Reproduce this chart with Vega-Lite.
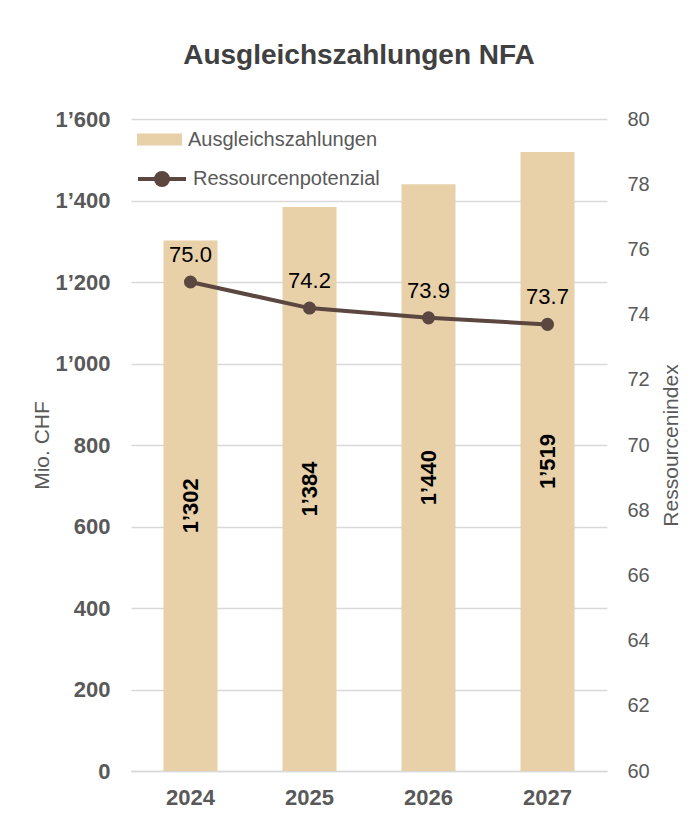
{
  "$schema": "https://vega.github.io/schema/vega-lite/v6.json",
  "width": 476,
  "height": 652,
  "autosize": {"type": "none"},
  "padding": {"left": 131, "top": 119, "right": 86, "bottom": 61},
  "background": "white",
  "config": {
    "locale": {"number": {"decimal": ".", "thousands": "’", "grouping": [3], "currency": ["", ""]}},
    "font": "Liberation Sans",
    "view": {"stroke": null}
  },
  "title": {
    "text": "Ausgleichszahlungen NFA",
    "fontSize": 28,
    "fontWeight": "bold",
    "color": "#404040",
    "font": "Liberation Sans",
    "anchor": "middle",
    "dx": -10,
    "offset": 38
  },
  "data": {
    "values": [
      {"year": "2024", "zahlungen": 1302, "index": 75.0},
      {"year": "2025", "zahlungen": 1384, "index": 74.2},
      {"year": "2026", "zahlungen": 1440, "index": 73.9},
      {"year": "2027", "zahlungen": 1519, "index": 73.7}
    ]
  },
  "encoding": {
    "x": {
      "field": "year",
      "type": "ordinal",
      "scale": {"paddingInner": 0.546, "paddingOuter": 0.273},
      "axis": {
        "title": null,
        "labelAngle": 0,
        "labelFontSize": 22,
        "labelFontWeight": "bold",
        "labelColor": "#595959",
        "labelPadding": 16,
        "ticks": false,
        "domainColor": "#D9D9D9",
        "domainWidth": 1.5
      }
    }
  },
  "layer": [
    {
      "mark": {"type": "bar"},
      "encoding": {
        "y": {
          "field": "zahlungen",
          "type": "quantitative",
          "scale": {"domain": [0, 1600], "nice": false},
          "axis": {
            "orient": "left",
            "title": "Mio. CHF",
            "titleFontSize": 21,
            "titleFontWeight": "normal",
            "titleColor": "#595959",
            "titlePadding": 2,
            "values": [0, 200, 400, 600, 800, 1000, 1200, 1400, 1600],
            "format": ",d",
            "labelFontSize": 22,
            "labelFontWeight": "bold",
            "labelColor": "#595959",
            "labelPadding": 21,
            "domain": false,
            "ticks": false,
            "grid": true,
            "gridColor": "#D9D9D9",
            "gridWidth": 1.5
          }
        },
        "fill": {
          "datum": "Ausgleichszahlungen",
          "type": "nominal",
          "scale": {"range": ["#E8D0A9"]},
          "legend": {
            "orient": "none",
            "legendX": 6,
            "legendY": -2,
            "title": null,
            "symbolType": "M-1,-0.27H1V0.27H-1Z",
            "symbolSize": 2025,
            "symbolStrokeWidth": 0,
            "labelFontSize": 20,
            "labelColor": "#595959",
            "labelOffset": 6,
            "labelLimit": 400,
            "padding": 0
          }
        }
      }
    },
    {
      "mark": {"type": "text", "angle": 270, "align": "center", "baseline": "middle", "fontSize": 22, "fontWeight": "bold", "color": "#000000"},
      "encoding": {
        "y": {
          "field": "zahlungen",
          "type": "quantitative",
          "scale": {"domain": [0, 3200], "nice": false},
          "axis": null
        },
        "text": {"field": "zahlungen", "type": "quantitative", "format": ",d"}
      }
    },
    {
      "mark": {"type": "line", "strokeWidth": 4},
      "encoding": {
        "y": {
          "field": "index",
          "type": "quantitative",
          "scale": {"domain": [60, 80], "nice": false, "zero": false},
          "axis": {
            "orient": "right",
            "title": "Ressourcenindex",
            "titleAngle": 270,
            "titleFontSize": 21,
            "titleFontWeight": "normal",
            "titleColor": "#595959",
            "titlePadding": 32,
            "values": [60, 62, 64, 66, 68, 70, 72, 74, 76, 78, 80],
            "labelFontSize": 20,
            "labelColor": "#595959",
            "labelPadding": 20,
            "domain": false,
            "ticks": false,
            "grid": false
          }
        },
        "stroke": {
          "datum": "Ressourcenpotenzial",
          "type": "nominal",
          "scale": {"range": ["#5C4640"]},
          "legend": {
            "orient": "none",
            "legendX": 5,
            "legendY": 34,
            "title": null,
            "symbolType": "M-1,0H1M0.25,0A0.25,0.25 0 1,1 -0.25,0A0.25,0.25 0 1,1 0.25,0Z",
            "symbolSize": 2304,
            "symbolStrokeWidth": 4,
            "labelFontSize": 20,
            "labelColor": "#595959",
            "labelOffset": 5,
            "labelLimit": 400,
            "padding": 0,
            "encode": {"symbols": {"update": {"fill": {"value": "#5C4640"}}}}
          }
        }
      }
    },
    {
      "mark": {"type": "point", "filled": true, "size": 170, "color": "#5C4640", "opacity": 1},
      "encoding": {
        "y": {
          "field": "index",
          "type": "quantitative",
          "scale": {"domain": [60, 80], "nice": false, "zero": false},
          "axis": null
        }
      }
    },
    {
      "mark": {"type": "text", "baseline": "alphabetic", "align": "center", "dy": -20, "fontSize": 22, "color": "#000000"},
      "encoding": {
        "y": {
          "field": "index",
          "type": "quantitative",
          "scale": {"domain": [60, 80], "nice": false, "zero": false},
          "axis": null
        },
        "text": {"field": "index", "type": "quantitative", "format": ".1f"}
      }
    }
  ],
  "resolve": {"scale": {"y": "independent", "fill": "independent", "stroke": "independent"}}
}
